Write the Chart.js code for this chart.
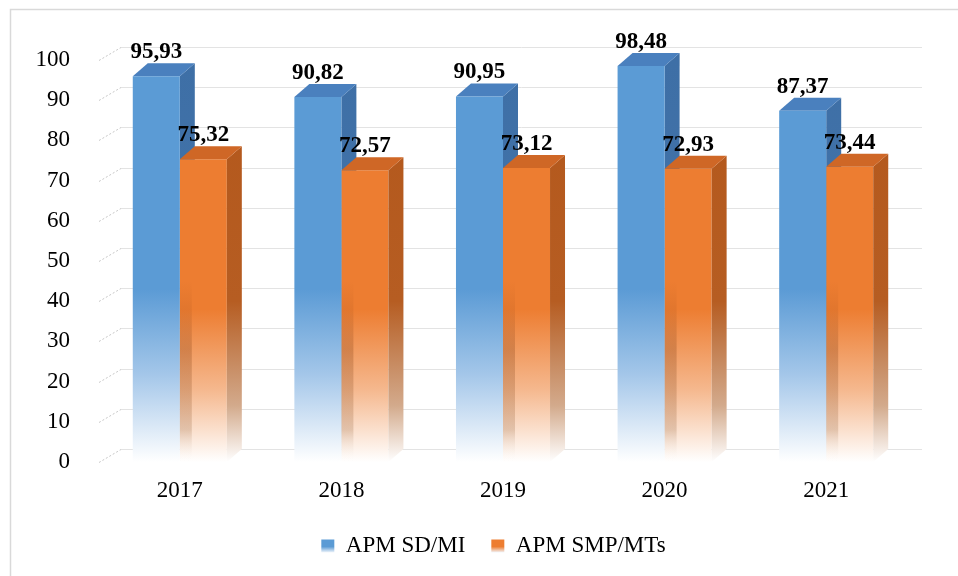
<!DOCTYPE html>
<html>
<head>
<meta charset="utf-8">
<script src="https://cdn.jsdelivr.net/npm/chart.js@4"></script>
<style>
  html, body { margin: 0; padding: 0; background: #fff; }
  #wrap { width: 958px; height: 576px; }
</style>
</head>
<body>
<div id="wrap"><canvas id="c" width="958" height="576"></canvas></div>
<script>
// Achievement rates per school year
const years = ['2017', '2018', '2019', '2020', '2021'];
const apmSdMi = [95.93, 90.82, 90.95, 98.48, 87.37];
const apmSmpMts = [75.32, 72.57, 73.12, 72.93, 73.44];
const seriesNames = ['APM SD/MI', 'APM SMP/MTs'];
const yMin = 0, yMax = 100, yStep = 10;

const FONT = "'Liberation Serif', 'Times New Roman', serif";
const BLUE = '#5B9BD5';
const ORANGE = '#ED7D31';

// depth of the 3D bar prisms and of the back wall
const DX = 15, DY = 13;
const WX = 22, WY = 13;

const fades = {
  blueFront:   [[0, BLUE], [0.57, BLUE], [0.78, '#A3C6E9'], [1, '#FFFFFF']],
  orangeFront: [[0, ORANGE], [0.62, ORANGE], [0.82, '#F5B88E'], [1, '#FFFFFF']],
  blueSide:    [[0, '#3E6FA6'], [0.6, '#4274AA'], [0.85, '#9CB8D6'], [1, '#FFFFFF']],
  orangeSide:  [[0, '#B3571B'], [0.6, '#B65D22'], [0.86, '#D3AA8C'], [1, '#FFFFFF']],
  orangeShade: [[0, 'rgba(150,70,20,0)'], [0.55, 'rgba(150,70,20,0)'], [0.72, 'rgba(140,70,25,0.30)'],
                [0.92, 'rgba(140,90,50,0.22)'], [1, 'rgba(255,255,255,0)']],
  blueTop: '#4A80BE',
  orangeTop: '#CF6726'
};

function vGrad(c, area, stops) {
  const g = c.createLinearGradient(0, area.top, 0, area.bottom);
  stops.forEach(([o, col]) => g.addColorStop(o, col));
  return g;
}

function faceFill(solid, key) {
  return (ctx) => {
    const area = ctx.chart.chartArea;
    if (!area || ctx.type !== 'data') return solid;
    return vGrad(ctx.chart.ctx, area, fades[key]);
  };
}

function fmt(v) { return v.toFixed(2).replace('.', ','); }

function drawPrism(c, bar, side, top) {
  const p = bar.getProps(['x', 'y', 'base', 'width'], true);
  const l = p.x - p.width / 2, r = p.x + p.width / 2;
  c.beginPath();
  c.moveTo(r, p.y); c.lineTo(r + DX, p.y - DY);
  c.lineTo(r + DX, p.base - DY); c.lineTo(r, p.base);
  c.closePath();
  c.fillStyle = side; c.fill();
  c.beginPath();
  c.moveTo(l, p.y); c.lineTo(l + DX, p.y - DY);
  c.lineTo(r + DX, p.y - DY); c.lineTo(r, p.y);
  c.closePath();
  c.fillStyle = top; c.fill();
}

const prismPlugin = {
  id: 'prism',
  beforeDraw(chart) {
    const c = chart.ctx;
    c.save();
    c.fillStyle = '#FFFFFF';
    c.fillRect(0, 0, chart.width, chart.height);
    c.strokeStyle = '#D9D9D9';
    c.lineWidth = 1.5;
    c.strokeRect(10.5, 9.5, chart.width + 40, chart.height + 40);
    c.restore();
  },
  beforeDatasetsDraw(chart) {
    const c = chart.ctx, a = chart.chartArea, y = chart.scales.y;
    c.save();
    // back wall grid lines with their slanted left edge
    for (let v = yMin; v <= yMax; v += yStep) {
      const py = Math.round(y.getPixelForValue(v)) + 0.5;
      c.strokeStyle = '#E3E3E3';
      c.lineWidth = 1;
      c.setLineDash([]);
      c.beginPath();
      c.moveTo(a.left + WX, py - WY);
      c.lineTo(a.right + DX, py - WY);
      c.stroke();
      c.strokeStyle = '#C8C8C8';
      c.setLineDash([2, 2]);
      c.beginPath();
      c.moveTo(a.left, py);
      c.lineTo(a.left + WX, py - WY);
      c.stroke();
    }
    c.setLineDash([]);
    // sides and tops of the first series sit behind the second series
    const meta = chart.getDatasetMeta(0);
    const side = vGrad(c, a, fades.blueSide);
    meta.data.forEach(bar => drawPrism(c, bar, side, fades.blueTop));
    c.restore();
  },
  afterDatasetsDraw(chart) {
    const c = chart.ctx, a = chart.chartArea;
    c.save();
    const meta1 = chart.getDatasetMeta(1);
    const side = vGrad(c, a, fades.orangeSide);
    const shade = vGrad(c, a, fades.orangeShade);
    meta1.data.forEach(bar => {
      drawPrism(c, bar, side, fades.orangeTop);
      // shadow strip along the left edge of the front face
      const p = bar.getProps(['x', 'y', 'base', 'width'], true);
      c.fillStyle = shade;
      c.fillRect(p.x - p.width / 2, p.y, 12, p.base - p.y);
    });
    // value labels
    c.fillStyle = '#000';
    c.font = 'bold 23px ' + FONT;
    c.textAlign = 'center';
    c.textBaseline = 'alphabetic';
    chart.data.datasets.forEach((ds, i) => {
      chart.getDatasetMeta(i).data.forEach((bar, j) => {
        const p = bar.getProps(['x', 'y'], true);
        c.fillText(fmt(ds.data[j]), p.x, p.y - 18);
      });
    });
    c.restore();
  }
};

function legendLabels(chart) {
  const items = Chart.defaults.plugins.legend.labels.generateLabels(chart);
  const lg = chart.legend;
  const o = chart.options.plugins.legend.labels;
  items.forEach((it, i) => {
    const solid = i === 0 ? BLUE : ORANGE;
    if (lg && Number.isFinite(lg.top)) {
      const y0 = lg.top + o.padding + Math.max((o.font.size - o.boxHeight) / 2, 0);
      const g = chart.ctx.createLinearGradient(0, y0, 0, y0 + o.boxHeight);
      g.addColorStop(0, solid);
      g.addColorStop(0.55, solid);
      g.addColorStop(1, '#F2F6FB');
      it.fillStyle = g;
    } else {
      it.fillStyle = solid;
    }
    it.strokeStyle = 'rgba(0,0,0,0)';
    it.lineWidth = 0;
  });
  return items;
}

new Chart(document.getElementById('c'), {
  type: 'bar',
  data: {
    labels: years,
    datasets: [
      { label: seriesNames[0], data: apmSdMi, backgroundColor: faceFill(BLUE, 'blueFront'), borderWidth: 0 },
      { label: seriesNames[1], data: apmSmpMts, backgroundColor: faceFill(ORANGE, 'orangeFront'), borderWidth: 0 }
    ]
  },
  options: {
    responsive: false,
    devicePixelRatio: 1,
    animation: false,
    layout: { padding: { left: 29, right: 0, top: 60, bottom: 8.5 } },
    datasets: { bar: { categoryPercentage: 0.582, barPercentage: 1 } },
    scales: {
      x: {
        grid: { display: false },
        border: { display: false },
        ticks: { color: '#000', font: { family: FONT, size: 23 }, padding: 7.5 },
        afterFit(s) { s.height = 46.5; }
      },
      y: {
        min: yMin, max: yMax,
        grid: { display: false },
        border: { display: false },
        ticks: { stepSize: yStep, color: '#000', font: { family: FONT, size: 23 }, padding: 21 },
        afterFit(s) { s.width = 70; }
      },
      yPad: {
        type: 'linear',
        position: 'right',
        grid: { display: false },
        border: { display: false },
        ticks: { display: false },
        afterFit(s) { s.width = 51; }
      }
    },
    plugins: {
      legend: {
        position: 'bottom',
        labels: {
          color: '#000',
          font: { family: FONT, size: 23 },
          boxWidth: 13,
          boxHeight: 13,
          padding: 26,
          generateLabels: legendLabels
        }
      },
      tooltip: { enabled: false }
    }
  },
  plugins: [prismPlugin]
});
</script>
</body>
</html>
